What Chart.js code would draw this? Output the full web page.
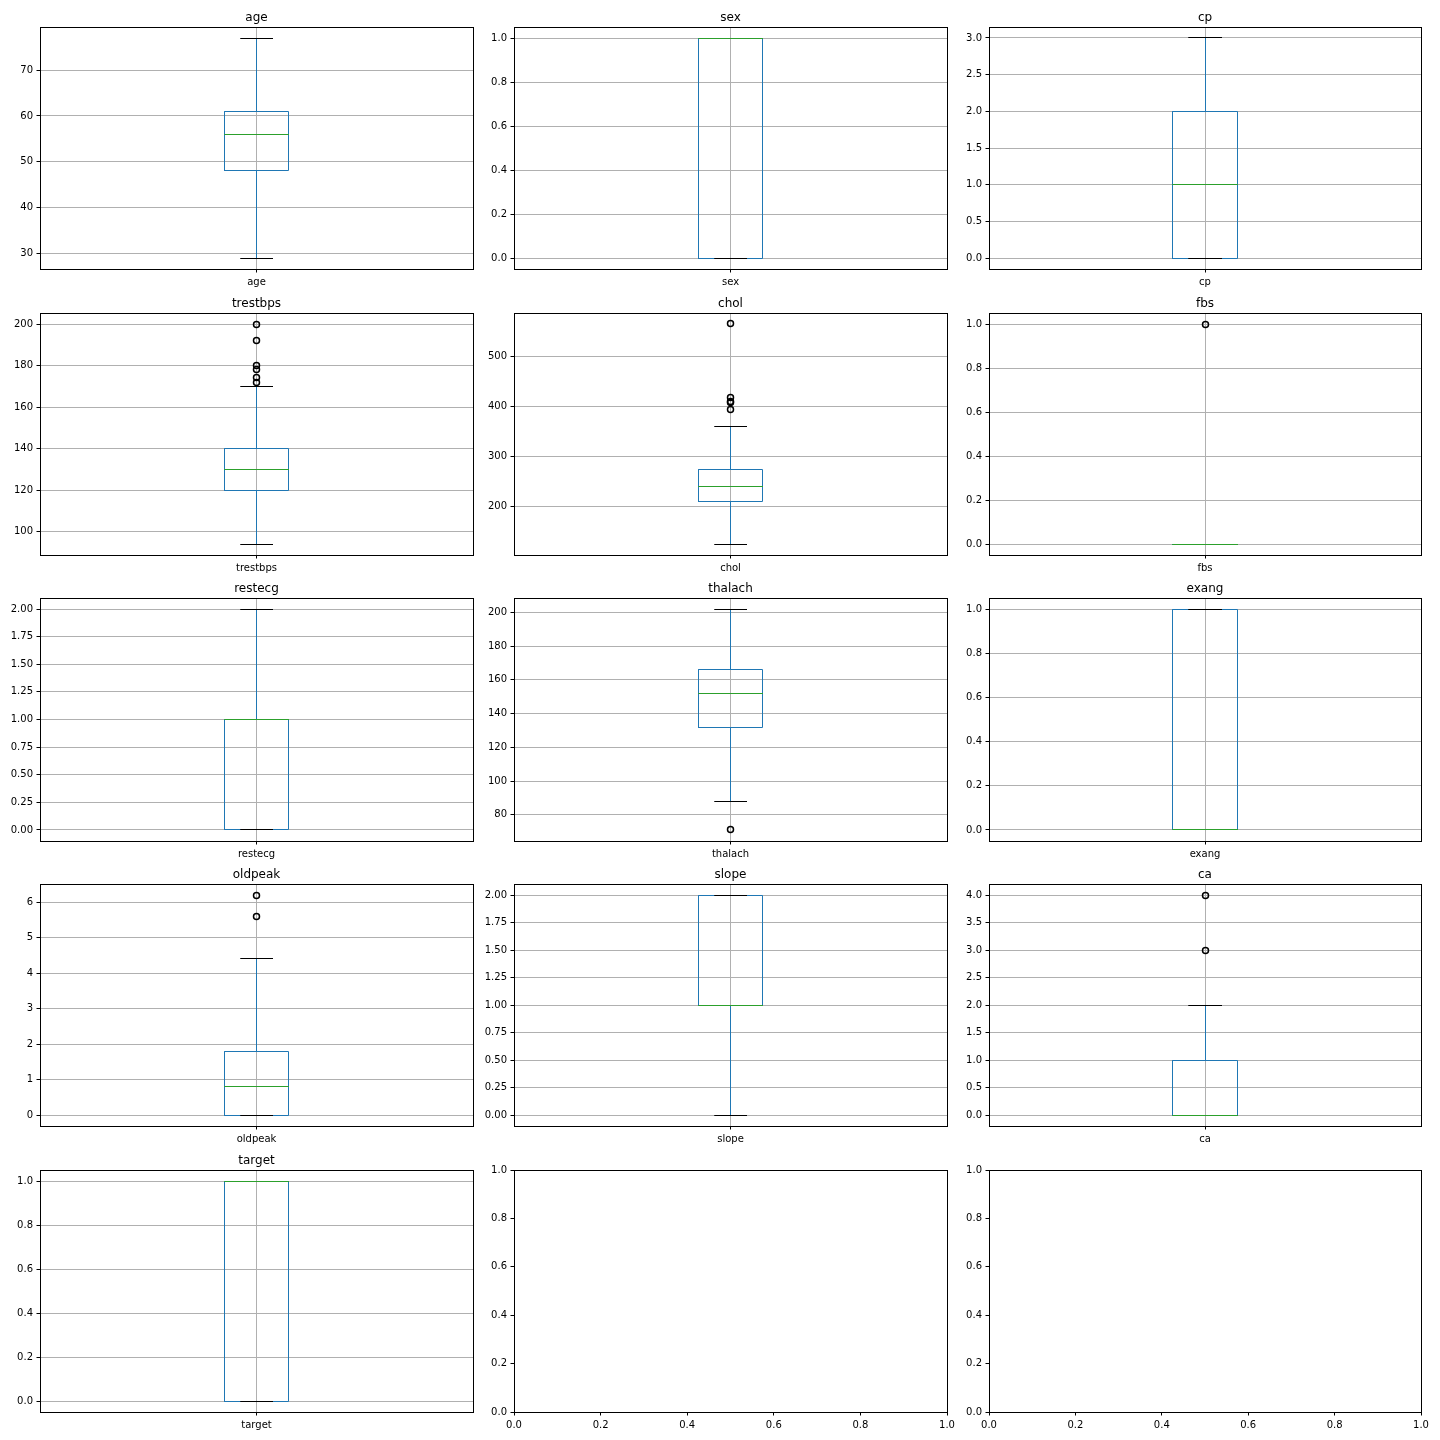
<!DOCTYPE html>
<html>
<head>
<meta charset="utf-8">
<script src="https://cdn.jsdelivr.net/npm/chart.js@4.4.0/dist/chart.umd.min.js"></script>
<style>
html,body{margin:0;padding:0;background:#fff;}
body{width:1440px;height:1440px;position:relative;overflow:hidden;}
canvas{position:absolute;}
</style>
</head>
<body>
<script>
// ---- data ----
const columns     = ['age','sex','cp','trestbps','chol','fbs','restecg','thalach','exang','oldpeak','slope','ca','target'];
const whiskerLow  = [29, 0, 0, 94, 126, 0, 0, 88, 0, 0, 0, 0, 0];
const quartile1   = [48, 0, 0, 120, 211, 0, 0, 132, 0, 0, 1, 0, 0];
const medians     = [56, 1, 1, 130, 240, 0, 1, 152, 0, 0.8, 1, 0, 1];
const quartile3   = [61, 1, 2, 140, 275, 0, 1, 166, 1, 1.8, 2, 1, 1];
const whiskerHigh = [77, 1, 3, 170, 360, 0, 2, 202, 1, 4.4, 2, 2, 1];
const outliers    = [[], [], [], [172,174,178,180,192,200], [394,407,409,417,564], [1], [], [71], [], [5.6,6.2], [], [3,4], []];
const tickSteps    = [10, 0.2, 0.5, 20, 100, 0.2, 0.25, 20, 0.2, 1, 0.25, 0.5, 0.2];
const tickDecimals = [0, 1, 1, 0, 0, 1, 2, 0, 1, 0, 2, 1, 1];
const emptyTicks   = [0, 0.2, 0.4, 0.6, 0.8, 1.0];

// ---- layout ----
const colLeft   = [40, 514, 989];
const colRight  = [473, 947, 1421];
const rowTop    = [27, 313, 598, 884, 1170];
const rowBottom = [269, 555, 841, 1126, 1412];
const PADL = 40, PADT = 27, PADR = 12, PADB = 25;

const BLUE = '#1f77b4', GREEN = '#2ca02c', GRID = '#b0b0b0';
const FONT = {family: '"DejaVu Sans"', size: 10};

Chart.defaults.color = '#000';
Chart.defaults.font.family = '"DejaVu Sans"';
Chart.defaults.font.size = 10;

// snap mark vertices to pixel centres (like matplotlib's line snapping)
const snapPlugin = {
  id: 'snap',
  afterDatasetsUpdate(chart) {
    const snap = v => Math.round(v - 0.5) + 0.5;
    chart.data.datasets.forEach((ds, i) => {
      const meta = chart.getDatasetMeta(i);
      meta.data.forEach(el => { el.x = snap(el.x); el.y = snap(el.y); });
      if (meta.dataset) { meta.dataset._path = undefined; }
    });
  }
};

const framePlugin = {
  id: 'frame',
  afterDraw(chart, args, opts) {
    const {ctx, chartArea: a} = chart;
    ctx.save();
    ctx.strokeStyle = '#000';
    ctx.lineWidth = 1;
    const l = Math.round(a.left), t = Math.round(a.top), r = Math.round(a.right), b = Math.round(a.bottom);
    ctx.strokeRect(l + 0.5, t + 0.5, r - l, b - t);
    if (opts && opts.text) {
      ctx.fillStyle = '#000';
      ctx.font = '12px "DejaVu Sans"';
      ctx.textAlign = 'center';
      ctx.textBaseline = 'alphabetic';
      ctx.fillText(opts.text, (a.left + a.right) / 2, a.top - 6);
    }
    ctx.restore();
  }
};

function stepTicks(min, max, step) {
  const t = [];
  for (let k = Math.ceil(min / step - 1e-9); k * step <= max + 1e-9; k++) {
    t.push({value: +(k * step).toFixed(6)});
  }
  return t;
}

function lineDs(label, pts, color) {
  return {label, data: pts, showLine: true, borderColor: color, borderWidth: 1,
          pointRadius: 0, fill: false, tension: 0, borderCapStyle: 'square'};
}

function makeCanvas(r, c) {
  const cv = document.createElement('canvas');
  const w = colRight[c] - colLeft[c] + PADL + PADR;
  const h = rowBottom[r] - rowTop[r] + PADT + PADB;
  cv.width = w; cv.height = h;
  cv.style.width = w + 'px'; cv.style.height = h + 'px';
  cv.style.left = (colLeft[c] - PADL) + 'px';
  cv.style.top = (rowTop[r] - PADT) + 'px';
  document.body.appendChild(cv);
  return cv;
}

function baseOptions(title) {
  return {
    responsive: false, animation: false, devicePixelRatio: 1, events: [],
    layout: {padding: {left: 0, top: PADT, right: PADR, bottom: 0}},
    plugins: {legend: {display: false}, tooltip: {enabled: false}, title: {display: false}, frame: {text: title}},
  };
}

function boxChart(i, cv) {
  const name = columns[i];
  const lo = whiskerLow[i], q1 = quartile1[i], med = medians[i], q3 = quartile3[i], hi = whiskerHigh[i];
  const fl = outliers[i];
  const dmin = Math.min(lo, ...fl), dmax = Math.max(hi, ...fl);
  const m = (dmax - dmin) * 0.05;
  const ymin = dmin - m, ymax = dmax + m;
  const pos = 1, half = 0.075, capHalf = 0.0375;
  const datasets = [
    {label: 'fliers', data: fl.map(v => ({x: pos, y: v})), showLine: false,
     pointRadius: 3, pointStyle: 'circle', pointBorderColor: '#000', pointBackgroundColor: 'rgba(0,0,0,0)', pointBorderWidth: 1.5},
    lineDs('median', [{x: pos - half, y: med}, {x: pos + half, y: med}], GREEN),
    lineDs('capHigh', [{x: pos - capHalf, y: hi}, {x: pos + capHalf, y: hi}], '#000'),
    lineDs('capLow', [{x: pos - capHalf, y: lo}, {x: pos + capHalf, y: lo}], '#000'),
    lineDs('whiskerHigh', [{x: pos, y: q3}, {x: pos, y: hi}], BLUE),
    lineDs('whiskerLow', [{x: pos, y: q1}, {x: pos, y: lo}], BLUE),
    lineDs('box', [{x: pos - half, y: q1}, {x: pos + half, y: q1}, {x: pos + half, y: q3}, {x: pos - half, y: q3}, {x: pos - half, y: q1}], BLUE)
  ];
  const opts = baseOptions(name);
  opts.scales = {
    x: {type: 'linear', min: 0.5, max: 1.5,
        afterFit: s => { s.height = PADB; },
        afterBuildTicks: s => { s.ticks = [{value: pos}]; },
        ticks: {callback: () => name, autoSkip: false, maxRotation: 0, padding: 3.5, color: '#000', font: FONT},
        grid: {color: GRID, lineWidth: 1, tickColor: '#000', tickLength: 3.5, tickWidth: 1},
        border: {display: false}},
    y: {type: 'linear', min: ymin, max: ymax,
        afterFit: s => { s.width = PADL; },
        afterBuildTicks: s => { s.ticks = stepTicks(ymin, ymax, tickSteps[i]); },
        ticks: {callback: v => Number(v).toFixed(tickDecimals[i]), autoSkip: false, padding: 3.5, color: '#000', font: FONT},
        grid: {color: GRID, lineWidth: 1, tickColor: '#000', tickLength: 3.5, tickWidth: 1},
        border: {display: false}}
  };
  new Chart(cv, {type: 'scatter', data: {datasets}, options: opts, plugins: [snapPlugin, framePlugin]});
}

function emptyChart(cv) {
  const opts = baseOptions('');
  const axis = (isX) => ({
    type: 'linear', min: 0, max: 1,
    afterFit: s => { if (isX) s.height = PADB; else s.width = PADL; },
    afterBuildTicks: s => { s.ticks = emptyTicks.map(v => ({value: v})); },
    ticks: {callback: v => Number(v).toFixed(1), autoSkip: false, maxRotation: 0, padding: 3.5, color: '#000', font: FONT},
    grid: {drawOnChartArea: false, tickColor: '#000', tickLength: 3.5, tickWidth: 1},
    border: {display: false}
  });
  opts.scales = {x: axis(true), y: axis(false)};
  new Chart(cv, {type: 'scatter', data: {datasets: []}, options: opts, plugins: [framePlugin]});
}

for (let k = 0; k < 15; k++) {
  const r = Math.floor(k / 3), c = k % 3;
  const cv = makeCanvas(r, c);
  if (k < columns.length) boxChart(k, cv); else emptyChart(cv);
}
</script>
</body>
</html>
